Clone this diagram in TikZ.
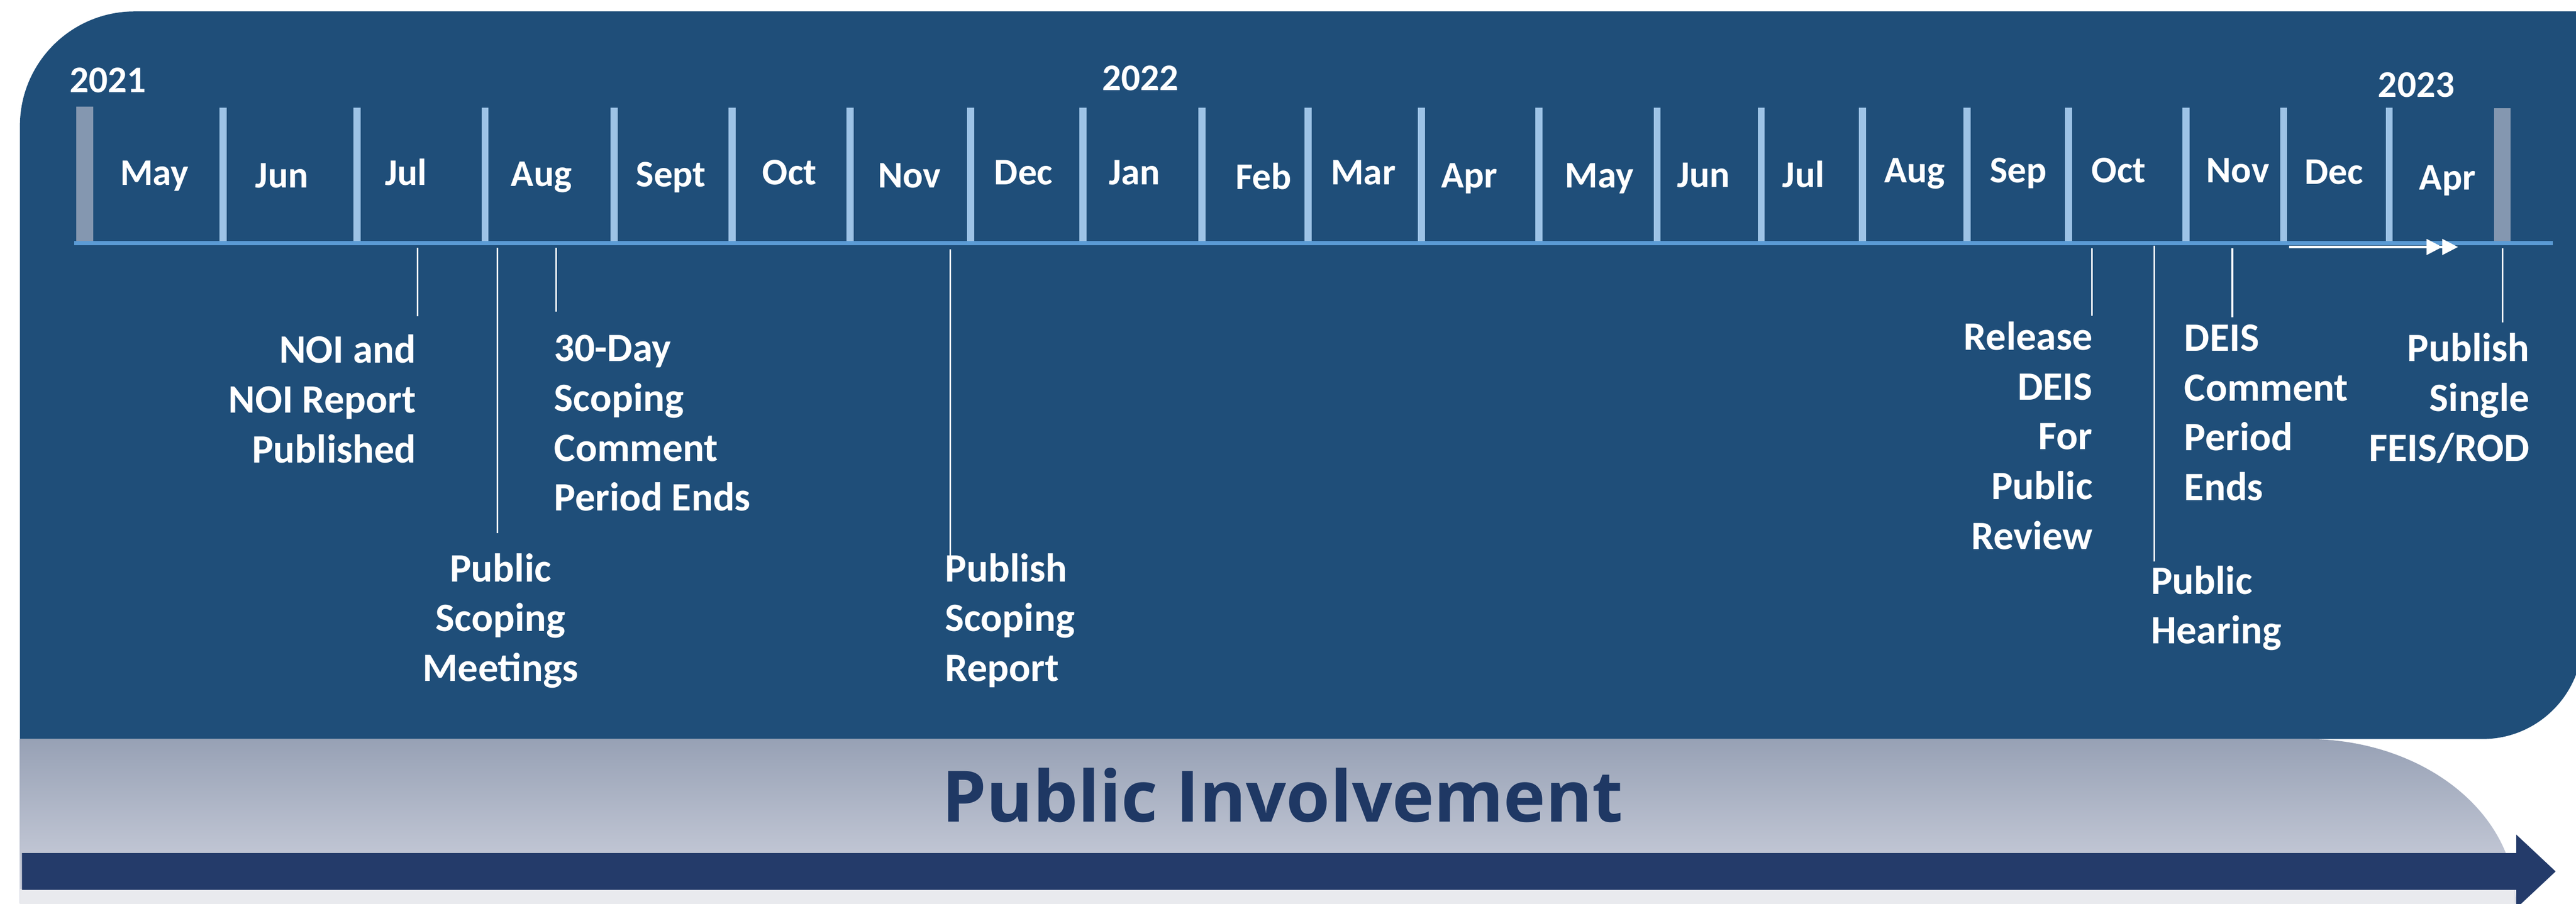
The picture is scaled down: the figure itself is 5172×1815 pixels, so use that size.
\documentclass[tikz,border=0pt]{standalone}
\usepackage{fontspec}
\setmainfont{Carlito}
\newfontfamily\pifont{Open Sans}
\usetikzlibrary{arrows.meta}
\definecolor{panel}{HTML}{1F4E79}
\definecolor{tickc}{HTML}{9DC3E6}
\definecolor{endbar}{HTML}{8497B0}
\definecolor{basec}{HTML}{5B9BD5}
\definecolor{darkarrow}{HTML}{243B6A}
\definecolor{bandtop}{HTML}{97A1B5}
\definecolor{bandbot}{HTML}{D2D5E1}
\definecolor{strip}{HTML}{E9EAEE}
\definecolor{pitext}{HTML}{1F3864}
\newcommand\rlines[1]{\begin{tabular}[t]{@{}r@{}}#1\end{tabular}}
\newcommand\llines[1]{\begin{tabular}[t]{@{}l@{}}#1\end{tabular}}
\newcommand\clines[1]{\begin{tabular}[t]{@{}c@{}}#1\end{tabular}}
\renewcommand\arraystretch{1}
\tikzset{
 monthlbl/.style={anchor=base, inner sep=0pt, text=white, font=\fontsize{21.5}{26}\selectfont\bfseries},
 yearlbl/.style={anchor=base west, inner sep=0pt, text=white, font=\fontsize{21.5}{26}\selectfont\bfseries},
 evlbl/.style={inner sep=0pt, text=white, font=\fontsize{23}{28.45}\selectfont\bfseries},
 divider/.style={draw=tickc, line width=4pt},
 evline/.style={draw=white, line width=0.9pt},
}
\begin{document}
\begin{tikzpicture}[x=0.1mm,y=-0.1mm]
\useasboundingbox (0,0) rectangle (5172,1815);
\clip (0,0) rectangle (5172,1815);
% main panel
\fill[panel] (40,1484) -- (40,253) .. controls (40,126) and (143,23) .. (270,23)
  -- (5185,23) -- (5185,1284) .. controls (5185,1394) and (5095,1484) .. (4985,1484) -- cycle;
% public involvement band
\shade[top color=bandtop, bottom color=bandbot] (40,1484) -- (4631,1484)
  .. controls (4863,1484) and (5051,1630) .. (5051,1815) -- (40,1815) -- cycle;
\fill[strip] (40,1785) rectangle (5049,1815);
\fill[darkarrow] (44,1713) -- (5052,1713) -- (5052,1676) -- (5131,1750) -- (5052,1824)
  -- (5052,1787) -- (44,1787) -- cycle;
\node[anchor=base, inner sep=0pt, text=pitext, font=\pifont\bfseries\fontsize{40.5}{46}\selectfont] (pi) at (2575,1650) {Public Involvement};
% month dividers
\foreach \x in {448,717,974,1233,1470,1707,1949,2174,2413,2626,2854,3090,3327,3536,3739,3949,4153,4389,4585,4797}
  \draw[divider] (\x,216) -- (\x,484);
\fill[endbar] (153,214) rectangle (187,486);
\fill[endbar] (5007,217) rectangle (5041,486);
% baseline
\draw[basec, line width=2.3pt] (149,488) -- (5125,488);
\coordinate (arrS) at (4596,496);
\coordinate (arrE) at (4935,496);
\draw[white, line width=1.2pt, -{Triangle[length=9pt,width=9pt] Triangle[length=9pt,width=9pt]}] (arrS) -- (arrE);
% years
\node[yearlbl] (y2021) at (139,186) {2021};
\node[yearlbl] (y2022) at (2212,182) {2022};
\node[yearlbl] (y2023) at (4774,195) {2023};
% months
\foreach \x/\y/\m [count=\i] in {310/372/May,566/377/Jun,815/372/Jul,1087/374/Aug,1347/375/Sept,1585/371/Oct,1826/377/Nov,2055/371/Dec,2278/371/Jan,2537/380/Feb,2737/371/Mar,2950/377/Apr,3211/377/May,3420/376/Jun,3621/376/Jul,3844/367/Aug,4052/367/Sep,4254/367/Oct,4493/367/Nov,4686/370/Dec,4914/381/Apr}
  \node[monthlbl] (m\i) at (\x,\y) {\m};
% event labels
\node[evlbl, anchor=base east] (noi) at (836,729) {\rlines{NOI and\\NOI Report\\Published}};
\node[evlbl, anchor=base] (psm) at (1005,1168) {\clines{Public\\Scoping\\Meetings}};
\node[evlbl, anchor=base west] (day30) at (1112,726) {\llines{30-Day\\Scoping\\Comment\\Period Ends}};
\node[evlbl, anchor=base west] (psr) at (1897,1168) {\llines{Publish\\Scoping\\Report}};
\node[evlbl, anchor=base east] (rel) at (4202,703) {\rlines{Release\\DEIS\\For\\Public\\Review}};
\node[evlbl, anchor=base west] (ph) at (4318,1193) {\llines{Public\\Hearing}};
\node[evlbl, anchor=base west] (dce) at (4385,705) {\llines{DEIS\\Comment\\Period\\Ends}};
\node[evlbl, anchor=base east] (pub) at (5079,726) {\rlines{Publish\\Single\\FEIS/ROD}};
% event connectors
\coordinate (noiT) at (838,498);  \coordinate (noiB) at (838,635);
\coordinate (psmT) at (999,498);  \coordinate (psmB) at (999,1071);
\coordinate (d30T) at (1117,498); \coordinate (d30B) at (1117,626);
\coordinate (psrT) at (1908,501); \coordinate (psrB) at (1908,1121);
\coordinate (relT) at (4200,499); \coordinate (relB) at (4200,634);
\coordinate (phT) at (4325,493);  \coordinate (phB) at (4325,1127);
\coordinate (dceT) at (4482,499); \coordinate (dceB) at (4482,637);
\coordinate (pubT) at (5025,499); \coordinate (pubB) at (5025,648);
\foreach \a in {noi,psm,d30,psr,rel,ph,dce,pub}
  \draw[evline] (\a T) -- (\a B);
\end{tikzpicture}
\end{document}
